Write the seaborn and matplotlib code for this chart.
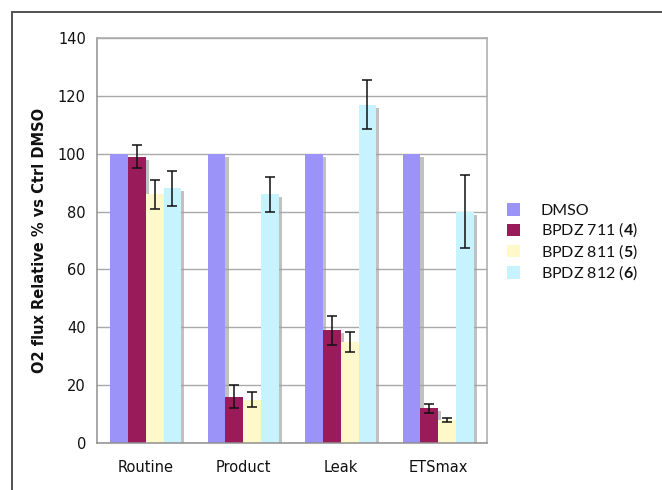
import matplotlib
matplotlib.use("Agg")
import matplotlib.pyplot as plt
import matplotlib.patheffects as pe
from matplotlib.patches import Rectangle, Patch
import numpy as np
import pandas as pd
import seaborn as sns

# Respiration states and treatments
states = ["Routine", "Product", "Leak", "ETSmax"]
treatments = ["DMSO", "BPDZ 711 (4)", "BPDZ 811 (5)", "BPDZ 812 (6)"]
legend_labels = ["DMSO", r"BPDZ 711 ($\mathbf{4}$)", r"BPDZ 811 ($\mathbf{5}$)", r"BPDZ 812 ($\mathbf{6}$)"]

# O2 flux relative to DMSO control (%), per treatment across states
dmso = [100, 100, 100, 100]
bpdz711 = [99, 16, 39, 12]
bpdz811 = [86, 15, 35, 8]
bpdz812 = [88, 86, 117, 80]

# Error bar half-widths
dmso_err = [0, 0, 0, 0]
bpdz711_err = [4, 4, 5, 1.5]
bpdz811_err = [5, 2.5, 3.5, 0.8]
bpdz812_err = [6, 6, 8.5, 12.5]

colors = ["#9b93f7", "#991b5a", "#fff8c8", "#c6f3fd"]

rows = []
for t, vals, errs in zip(treatments,
                         [dmso, bpdz711, bpdz811, bpdz812],
                         [dmso_err, bpdz711_err, bpdz811_err, bpdz812_err]):
    for s, v, e in zip(states, vals, errs):
        rows.append({"state": s, "treatment": t, "value": v, "err": e})
df = pd.DataFrame(rows)

sns.set_style("white")
plt.rcParams["font.family"] = ["DejaVu Sans"]
plt.rcParams["mathtext.fontset"] = "custom"
plt.rcParams["mathtext.rm"] = "Lato"
plt.rcParams["mathtext.bf"] = "Lato:bold"

fig = plt.figure(figsize=(6.62, 4.90), dpi=100)
ax = fig.add_axes([97 / 662, 1 - 443 / 490, (487 - 97) / 662, (443 - 38) / 490])

sns.barplot(data=df, x="state", y="value", hue="treatment", order=states,
            hue_order=treatments, palette=colors, width=0.73, errorbar=None,
            saturation=1, linewidth=0, legend=False, ax=ax)

# Drop shadow behind every bar
for p in ax.patches:
    p.set_path_effects([pe.SimplePatchShadow(offset=(2.2, -2.2), shadow_rgbFace="#a0a0a0", alpha=0.65),
                        pe.Normal()])

# Error bars centred on each bar
n_states = len(states)
for i, t in enumerate(treatments):
    sub = df[df.treatment == t].set_index("state").loc[states]
    bars = ax.patches[i * n_states:(i + 1) * n_states]
    xs = [b.get_x() + b.get_width() / 2 for b in bars]
    if sub["err"].sum() > 0:
        ax.errorbar(xs, sub["value"], yerr=sub["err"], fmt="none", ecolor="#111111",
                    elinewidth=1.1, capsize=3.4, capthick=1.1, zorder=5)

ax.set_ylim(0, 140)
ax.set_xlim(-0.5, 3.5)
ax.set_yticks(np.arange(0, 141, 20))
ax.yaxis.grid(True, color="#a9a9a9", linewidth=1.0)
ax.set_axisbelow(True)

# Ticks between categories on the x axis
ax.set_xticks(np.arange(-0.5, 3.6, 1.0), minor=True)
ax.tick_params(axis="x", which="major", length=0, pad=12, labelsize=10.5, colors="#111111")
ax.tick_params(axis="x", which="minor", length=4, width=1, color="#999999", direction="out")
ax.tick_params(axis="y", length=4, width=1, color="#999999", direction="out",
               labelsize=10.5, pad=4, colors="#111111")
ax.tick_params(axis="y", colors="#999999", labelcolor="#111111")

for side in ["left", "bottom"]:
    ax.spines[side].set_color("#8f8f8f")
    ax.spines[side].set_linewidth(1.1)
for side in ["top", "right"]:
    ax.spines[side].set_color("#a9a9a9")
    ax.spines[side].set_linewidth(1.1)

ax.set_xlabel("")
ax.set_ylabel("O2 flux Relative % vs Ctrl DMSO", fontsize=10.5, fontweight="bold",
              labelpad=8, color="#111111")

handles = [Patch(facecolor=c, edgecolor="none") for c in colors]
leg = fig.legend(handles, legend_labels, loc="upper left",
                 bbox_to_anchor=(493 / 662, 1 - 189 / 490), frameon=False,
                 handlelength=0.8, handleheight=0.8, handletextpad=1.3,
                 labelspacing=0.18, prop={"family": "Lato", "size": 11.5})
for txt in leg.get_texts():
    txt.set_color("#111111")

# Outer chart frame
fig.patches.append(Rectangle((12 / 662, -0.2), 1.2, 1.2 - 12 / 490,
                             transform=fig.transFigure, fill=False,
                             edgecolor="#444444", linewidth=1.3))

fig.savefig("out.png", dpi=100)
